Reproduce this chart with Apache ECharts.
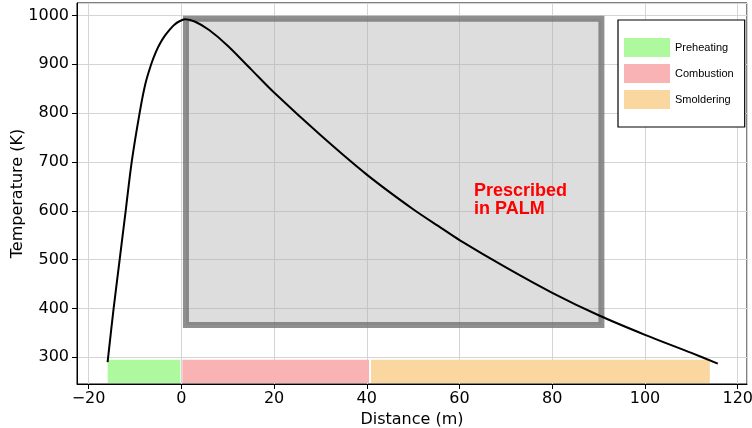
<!DOCTYPE html>
<html>
<head>
<meta charset="utf-8">
<script src="https://cdn.jsdelivr.net/npm/echarts@6/dist/echarts.min.js"></script>
<style>
  html, body { margin: 0; padding: 0; background: #fff; }
  #main { width: 752px; height: 428px; }
</style>
</head>
<body>
<div id="main"></div>
<script>
// temperature profile along the fire front
var distance = [-15.9, -14.6, -13.3, -12, -10.7, -9, -7.75, -6.5, -5.5, -4.5, -3.5, -2.5, -1.5, -0.4, 0.8, 3, 6, 10, 15, 20, 30, 40, 50, 56, 60, 70, 80, 90, 100, 110, 115.7];
var temperature = [290, 400, 500, 600, 700, 800, 860, 900, 925, 944, 959, 971, 981, 988, 992, 987, 970, 938, 890, 842, 755, 674, 603, 565, 540, 484, 432, 386, 346, 309, 287];

// stage bands: name, start, end
var stageNames = ['Preheating', 'Combustion', 'Smoldering'];
var stageStart = [-16.1, 0, 40.7];
var stageEnd = [0, 40.7, 114.2];
var stageColors = ['#aef99e', '#f9b3b4', '#fbd7a0'];
var bandTop = 295;

// prescribed region
var boxX = [1, 90.6];
var boxY = [366, 993];

var X_MIN = -22.5, X_MAX = 122;
var Y_MIN = 245.3, Y_MAX = 1025.4;

var chart = echarts.init(document.getElementById('main'), null, { renderer: 'canvas' });

function minus(v) {
  return String(v).replace('-', '\u2212');
}

function renderStage(params, api) {
  var p0 = api.coord([api.value(0), Y_MIN]);
  var p1 = api.coord([api.value(1), api.value(2)]);
  // leave a thin white gap between bands, keep off the axis line
  return {
    type: 'rect',
    shape: { x: p0[0] + 1, y: p1[1], width: p1[0] - p0[0] - 2, height: p0[1] - p1[1] - 1 },
    style: { fill: api.visual('color') }
  };
}

var series = [];
stageNames.forEach(function (name, i) {
  series.push({
    name: name,
    type: 'custom',
    renderItem: renderStage,
    itemStyle: { color: stageColors[i] },
    data: [[stageStart[i], stageEnd[i], bandTop]],
    z: 1
  });
});

series.push({
  name: 'profile',
  type: 'line',
  data: distance.map(function (d, i) { return [d, temperature[i]]; }),
  smooth: 0.3,
  showSymbol: false,
  lineStyle: { color: '#000', width: 2 },
  z: 2
});

series.push({
  name: 'box',
  type: 'line',
  data: [],
  z: 5,
  markArea: {
    silent: true,
    itemStyle: {
      color: 'rgba(170,170,170,0.4)',
      borderColor: 'rgba(115,115,115,0.8)',
      borderWidth: 6
    },
    data: [[{ coord: [boxX[0], boxY[1]] }, { coord: [boxX[1], boxY[0]] }]]
  }
});

var option = {
  animation: false,
  grid: {
    left: 77, right: 5, top: 3, bottom: 44,
    outerBoundsMode: 'none',
    show: true, borderColor: '#000', borderWidth: 1
  },
  legend: {
    data: stageNames.map(function (n) { return { name: n, icon: 'rect' }; }),
    orient: 'vertical',
    left: 618,
    top: 20,
    itemWidth: 46,
    itemHeight: 19,
    itemGap: 7,
    padding: [18, 11, 18, 6],
    backgroundColor: '#fff',
    borderColor: '#000',
    borderWidth: 1.2,
    selectedMode: false,
    textStyle: { fontFamily: 'Liberation Sans', fontSize: 11, color: '#000' }
  },
  xAxis: {
    type: 'value',
    min: X_MIN,
    max: X_MAX,
    splitNumber: 7,
    name: 'Distance (m)',
    nameLocation: 'middle',
    nameGap: 28,
    nameTextStyle: { fontFamily: 'DejaVu Sans', fontSize: 16, color: '#000' },
    axisLine: { onZero: false, lineStyle: { color: '#000', width: 1 } },
    axisTick: { show: true, length: 5, lineStyle: { color: '#000' } },
    axisLabel: {
      showMinLabel: false, showMaxLabel: false,
      fontFamily: 'DejaVu Sans', fontSize: 16, color: '#000', margin: 7,
      formatter: minus
    },
    splitLine: { show: true, lineStyle: { color: '#d5d5d5', width: 1 } }
  },
  yAxis: {
    type: 'value',
    min: Y_MIN,
    max: Y_MAX,
    splitNumber: 8,
    name: 'Temperature (K)',
    nameLocation: 'middle',
    nameGap: 51,
    nameMoveOverlap: false,
    nameTextStyle: { fontFamily: 'DejaVu Sans', fontSize: 16, color: '#000' },
    axisLine: { show: true, onZero: false, lineStyle: { color: '#000', width: 1 } },
    axisTick: { show: true, length: 5, lineStyle: { color: '#000' } },
    axisLabel: {
      showMinLabel: false, showMaxLabel: false,
      fontFamily: 'DejaVu Sans', fontSize: 16, color: '#000', margin: 8,
      formatter: function (v) { return String(v); }
    },
    splitLine: { show: true, lineStyle: { color: '#d5d5d5', width: 1 } }
  },
  graphic: [{
    type: 'text',
    left: 474,
    top: 182,
    z: 10,
    style: {
      text: 'Prescribed\nin PALM',
      fill: '#ff0000',
      font: 'bold 18px "Liberation Sans", Arial, sans-serif',
      lineHeight: 18
    }
  }],
  series: series
};

chart.setOption(option);
</script>
</body>
</html>
